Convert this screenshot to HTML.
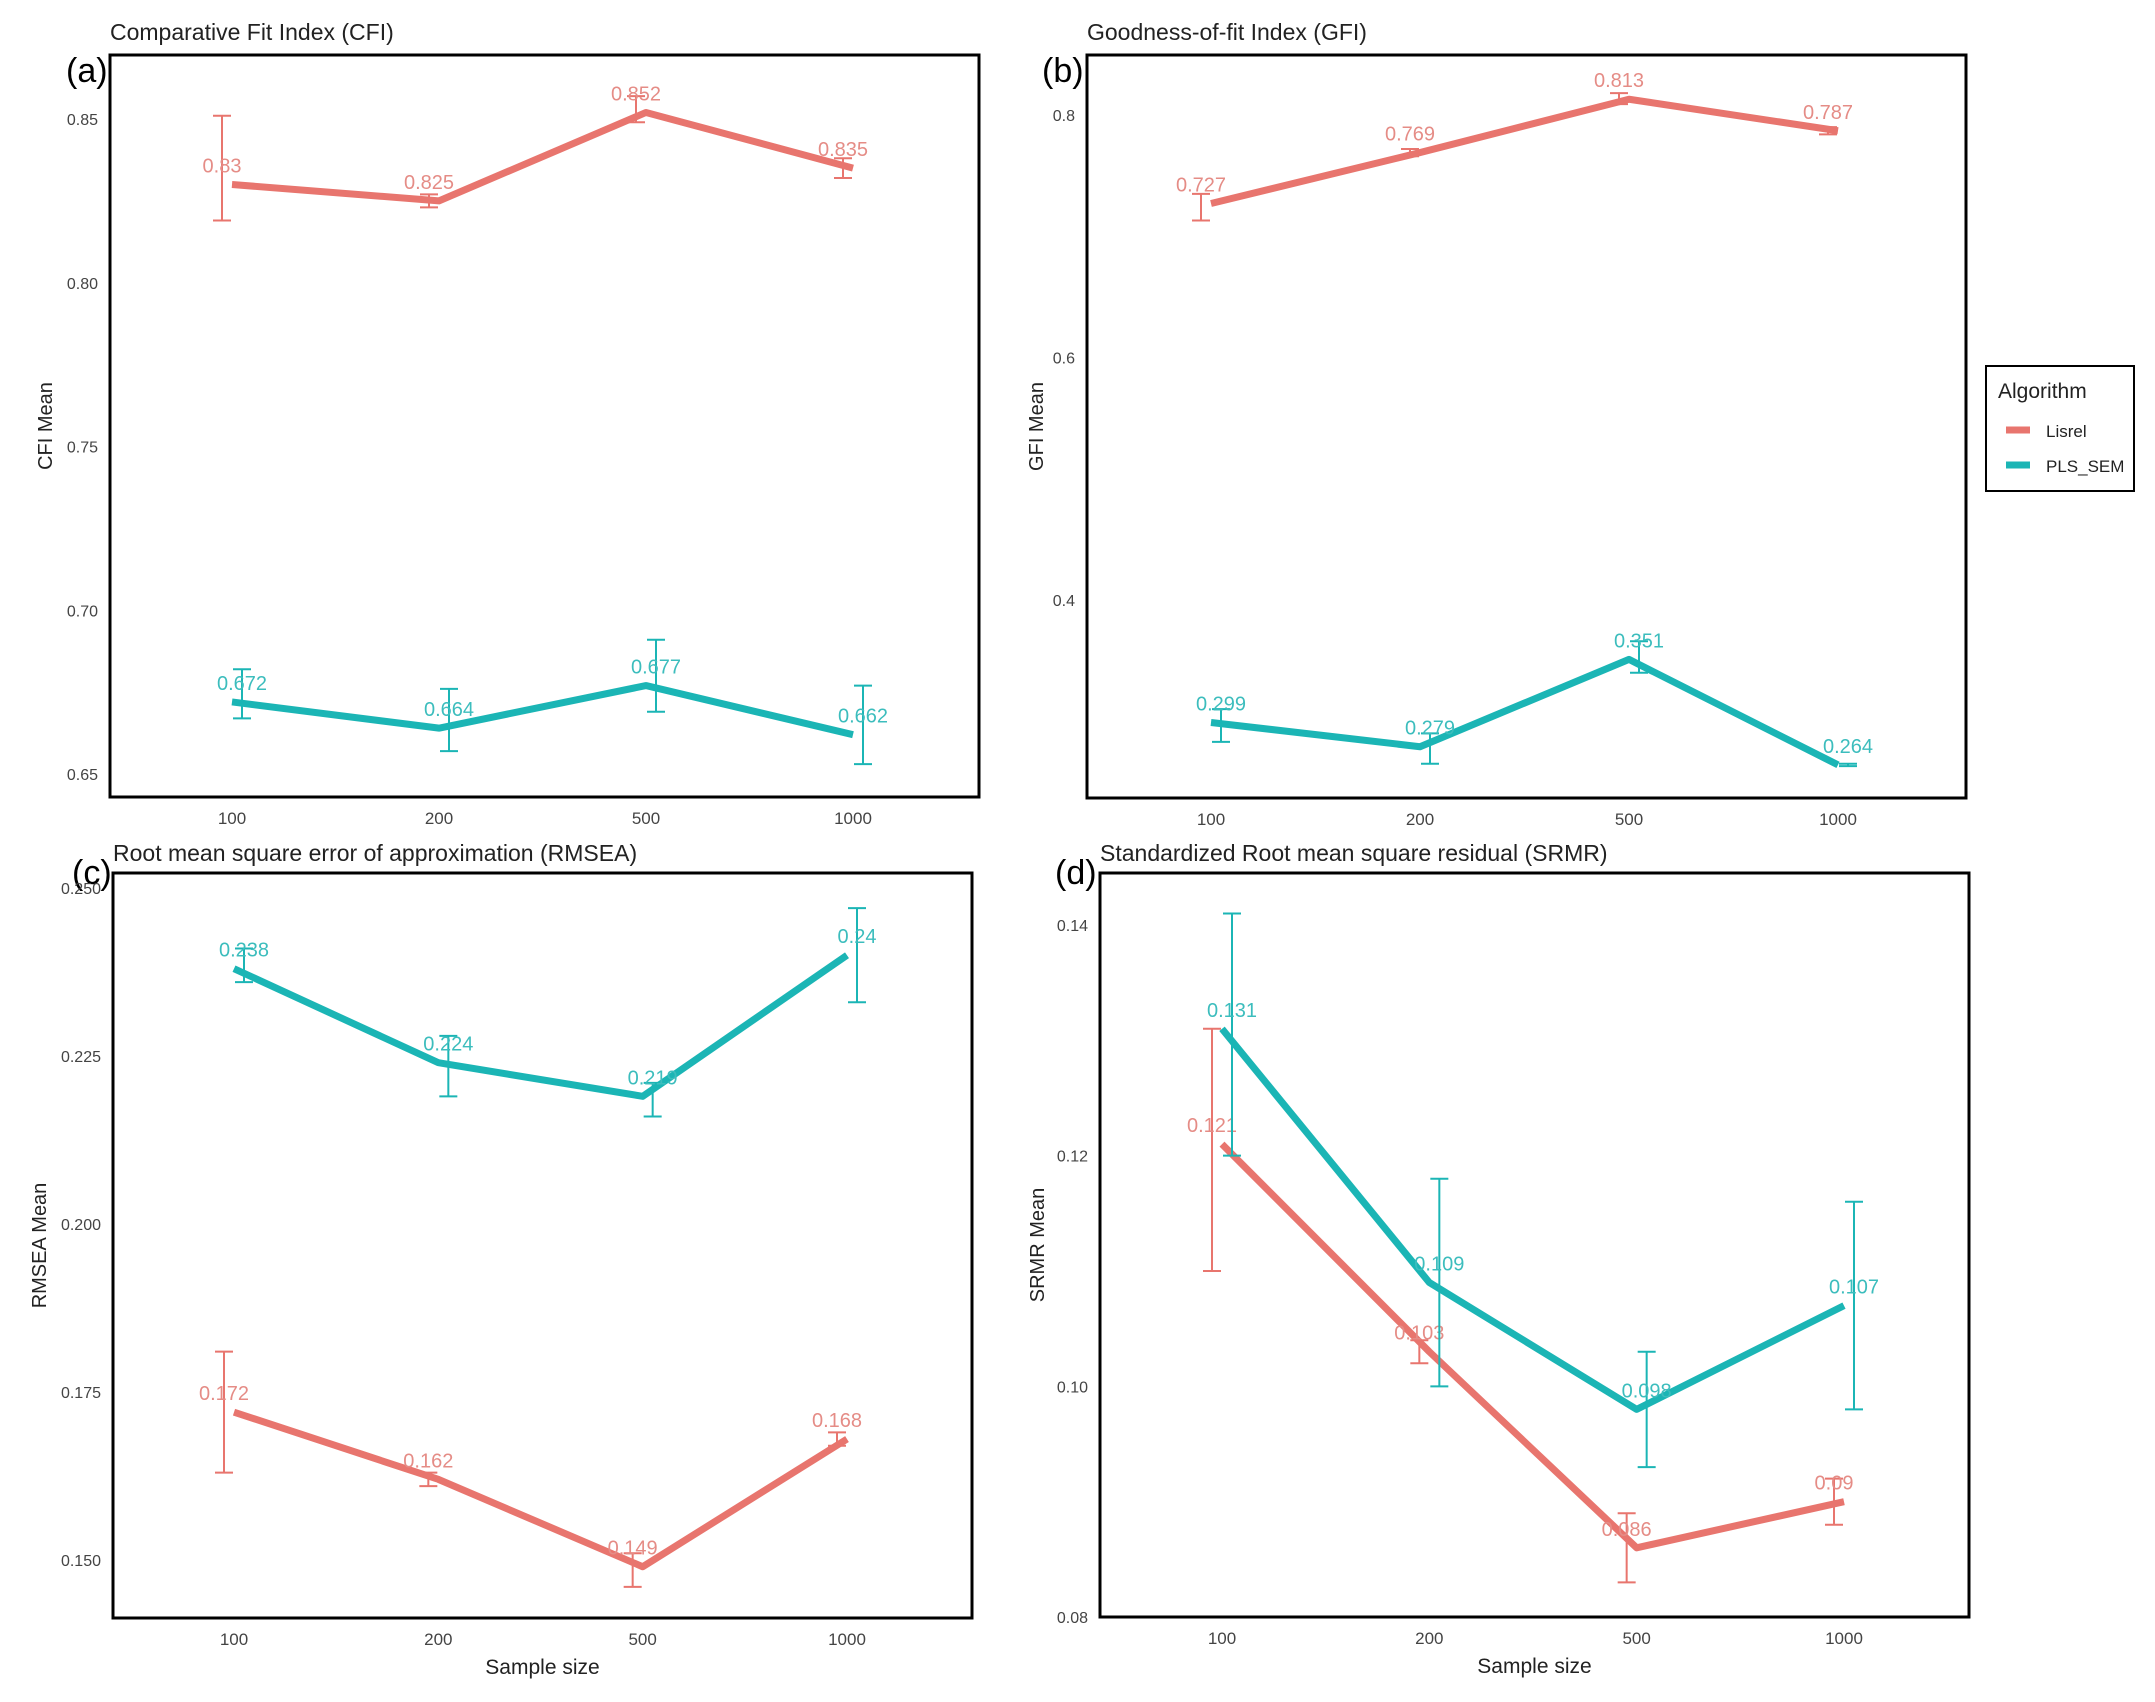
<!DOCTYPE html>
<html><head><meta charset="utf-8"><style>
body{margin:0;background:#fff;}
svg{display:block;font-family:"Liberation Sans",sans-serif;}
</style></head><body>
<svg id="chart" width="2155" height="1702" viewBox="0 0 2155 1702" xmlns="http://www.w3.org/2000/svg">
<rect width="2155" height="1702" fill="#fff"/>
<g id="legend">
<rect x="1986" y="366" width="148" height="125" fill="#fff" stroke="#000" stroke-width="2"/>
<text x="1998" y="398" font-size="21" fill="#222">Algorithm</text>
<g><line x1="2006" x2="2030" y1="430" y2="430" stroke="#E8756E" stroke-width="7"/><text x="2046" y="437" font-size="17" fill="#222">Lisrel</text></g>
<g><line x1="2006" x2="2030" y1="465" y2="465" stroke="#1BB5B5" stroke-width="7"/><text x="2046" y="472" font-size="17" fill="#222">PLS_SEM</text></g>
</g>
</svg>
<script>
const categories = ["100","200","500","1000"];
// Panel a: CFI
const cfiLisrel = [0.830,0.825,0.852,0.835];
const cfiLisrelLo = [0.819,0.823,0.849,0.832];
const cfiLisrelHi = [0.851,0.827,0.857,0.838];
const cfiPls = [0.672,0.664,0.677,0.662];
const cfiPlsLo = [0.667,0.657,0.669,0.653];
const cfiPlsHi = [0.682,0.676,0.691,0.677];
const cfiTicks = [0.65,0.70,0.75,0.80,0.85];
const cfiTickLabels = ["0.65","0.70","0.75","0.80","0.85"];
const cfiLabels = ["0.83","0.825","0.852","0.835"];
const cfiPlsLabels = ["0.672","0.664","0.677","0.662"];
// Panel b: GFI
const gfiLisrel = [0.727,0.769,0.813,0.787];
const gfiLisrelLo = [0.713,0.766,0.809,0.784];
const gfiLisrelHi = [0.735,0.772,0.818,0.790];
const gfiPls = [0.299,0.279,0.351,0.264];
const gfiPlsLo = [0.283,0.265,0.340,0.263];
const gfiPlsHi = [0.310,0.290,0.366,0.265];
const gfiTicks = [0.4,0.6,0.8];
const gfiTickLabels = ["0.4","0.6","0.8"];
const gfiLabels = ["0.727","0.769","0.813","0.787"];
const gfiPlsLabels = ["0.299","0.279","0.351","0.264"];
// Panel c: RMSEA
const rmseaLisrel = [0.172,0.162,0.149,0.168];
const rmseaLisrelLo = [0.163,0.161,0.146,0.167];
const rmseaLisrelHi = [0.181,0.163,0.151,0.169];
const rmseaPls = [0.238,0.224,0.219,0.240];
const rmseaPlsLo = [0.236,0.219,0.216,0.233];
const rmseaPlsHi = [0.241,0.228,0.221,0.247];
const rmseaTicks = [0.150,0.175,0.200,0.225,0.250];
const rmseaTickLabels = ["0.150","0.175","0.200","0.225","0.250"];
const rmseaLabels = ["0.172","0.162","0.149","0.168"];
const rmseaPlsLabels = ["0.238","0.224","0.219","0.24"];
// Panel d: SRMR
const srmrLisrel = [0.121,0.103,0.086,0.090];
const srmrLisrelLo = [0.110,0.102,0.083,0.088];
const srmrLisrelHi = [0.131,0.104,0.089,0.092];
const srmrPls = [0.131,0.109,0.098,0.107];
const srmrPlsLo = [0.120,0.100,0.093,0.098];
const srmrPlsHi = [0.141,0.118,0.103,0.116];
const srmrTicks = [0.08,0.10,0.12,0.14];
const srmrTickLabels = ["0.08","0.10","0.12","0.14"];
const srmrLabels = ["0.121","0.103","0.086","0.09"];
const srmrPlsLabels = ["0.131","0.109","0.098","0.107"];

const NS="http://www.w3.org/2000/svg";
const svg=document.getElementById('chart');
const legend=document.getElementById('legend');
function mk(tag,attrs,parent){const e=document.createElementNS(NS,tag);for(const k in attrs)e.setAttribute(k,attrs[k]);(parent||svg).insertBefore(e,parent?null:legend);return e;}
const LCOL="#E8756E", PCOL="#1BB5B5", LTXT="#E58C86", PTXT="#3CBDBD";

function panel(p){
  const g=mk('g',{});
  
  
  const yScale=v=>p.y0px+(v-p.v0)*(p.y1px-p.y0px)/(p.v1-p.v0);
  const xScale=i=>p.xs[0]+i*(p.xs[1]-p.xs[0])/(categories.length-1);
  const frame=mk('rect',{x:p.box[0],y:p.box[1],width:p.box[2]-p.box[0],height:p.box[3]-p.box[1],fill:'none',stroke:'#000','stroke-width':3},g);
  
  
  const t=mk('text',{x:p.box[0],y:p.titleY,'font-size':23,fill:'#222'},g);t.textContent=p.title;
  
  
  const tag=mk('text',{x:p.tagX,y:p.tagY,'font-size':34,fill:'#000'},g);tag.textContent=p.tag;
  
  
  p.ticks.forEach((v,i)=>{const tt=mk('text',{x:p.box[0]-12,y:yScale(v)+6,'font-size':16,fill:'#444','text-anchor':'end'},g);tt.textContent=p.tickLabels[i];
    
    });
  categories.forEach((c,i)=>{const tt=mk('text',{x:xScale(i),y:p.box[3]+27,'font-size':17,fill:'#444','text-anchor':'middle'},g);tt.textContent=c;
    
    });
  const yl=mk('text',{x:0,y:0,'font-size':20,fill:'#222','text-anchor':'middle',transform:`translate(${p.ylabX},${(p.box[1]+p.box[3])/2}) rotate(-90)`},g);yl.textContent=p.ylab;
  
  
  if(p.xlab){const xl=mk('text',{x:(p.box[0]+p.box[2])/2,y:p.box[3]+56,'font-size':21,fill:'#222','text-anchor':'middle'},g);xl.textContent='Sample size';
    
    }
  p.series.forEach(s=>{
    const sg=mk('g',{},g);
    
    
    s.lo.forEach((lo,i)=>{const x=xScale(i)+s.dx,y1=yScale(lo),y2=yScale(s.hi[i]);
      const eb=mk('path',{d:`M${x-9},${y1}H${x+9}M${x},${y1}V${y2}M${x-9},${y2}H${x+9}`,stroke:s.col,'stroke-width':2,fill:'none'},sg);
      
      });
    const d=s.vals.map((v,i)=>(i?'L':'M')+xScale(i)+','+yScale(v)).join('');
    const ln=mk('path',{d:d,stroke:s.col,'stroke-width':7,fill:'none','stroke-linejoin':'round'},sg);
    
    
    s.vals.forEach((v,i)=>{const tl=mk('text',{x:xScale(i)+s.dx,y:yScale(v)-12,'font-size':20,fill:s.tc,'text-anchor':'middle'},sg);tl.textContent=s.labels[i];
      
      });
  });
}
panel({id:'cfi',box:[110,55,979,797],title:'Comparative Fit Index (CFI)',titleY:40,tag:'(a)',tagX:66,tagY:82,
  v0:0.65,v1:0.85,y0px:774,y1px:119,xs:[232,853],ticks:cfiTicks,tickLabels:cfiTickLabels,ylab:'CFI Mean',ylabX:52,
  series:[{name:'lisrel',vals:cfiLisrel,lo:cfiLisrelLo,hi:cfiLisrelHi,labels:cfiLabels,col:LCOL,tc:LTXT,dx:-10},
          {name:'pls-sem',vals:cfiPls,lo:cfiPlsLo,hi:cfiPlsHi,labels:cfiPlsLabels,col:PCOL,tc:PTXT,dx:10}]});
panel({id:'gfi',box:[1087,55,1966,798],title:'Goodness-of-fit Index (GFI)',titleY:40,tag:'(b)',tagX:1042,tagY:82,
  v0:0.4,v1:0.8,y0px:600,y1px:115,xs:[1211,1838],ticks:gfiTicks,tickLabels:gfiTickLabels,ylab:'GFI Mean',ylabX:1043,
  series:[{name:'lisrel',vals:gfiLisrel,lo:gfiLisrelLo,hi:gfiLisrelHi,labels:gfiLabels,col:LCOL,tc:LTXT,dx:-10},
          {name:'pls-sem',vals:gfiPls,lo:gfiPlsLo,hi:gfiPlsHi,labels:gfiPlsLabels,col:PCOL,tc:PTXT,dx:10}]});
panel({id:'rmsea',box:[113,873,972,1618],title:'Root mean square error of approximation (RMSEA)',titleY:861,tag:'(c)',tagX:72,tagY:884,
  v0:0.15,v1:0.25,y0px:1560,y1px:888,xs:[234,847],ticks:rmseaTicks,tickLabels:rmseaTickLabels,ylab:'RMSEA Mean',ylabX:46,xlab:true,
  series:[{name:'pls-sem',vals:rmseaPls,lo:rmseaPlsLo,hi:rmseaPlsHi,labels:rmseaPlsLabels,col:PCOL,tc:PTXT,dx:10},
          {name:'lisrel',vals:rmseaLisrel,lo:rmseaLisrelLo,hi:rmseaLisrelHi,labels:rmseaLabels,col:LCOL,tc:LTXT,dx:-10}]});
panel({id:'srmr',box:[1100,873,1969,1617],title:'Standardized Root mean square residual (SRMR)',titleY:861,tag:'(d)',tagX:1055,tagY:884,
  v0:0.08,v1:0.14,y0px:1617,y1px:925,xs:[1222,1844],ticks:srmrTicks,tickLabels:srmrTickLabels,ylab:'SRMR Mean',ylabX:1044,xlab:true,
  series:[{name:'lisrel',vals:srmrLisrel,lo:srmrLisrelLo,hi:srmrLisrelHi,labels:srmrLabels,col:LCOL,tc:LTXT,dx:-10},
          {name:'pls-sem',vals:srmrPls,lo:srmrPlsLo,hi:srmrPlsHi,labels:srmrPlsLabels,col:PCOL,tc:PTXT,dx:10}]});
</script>
</body></html>
